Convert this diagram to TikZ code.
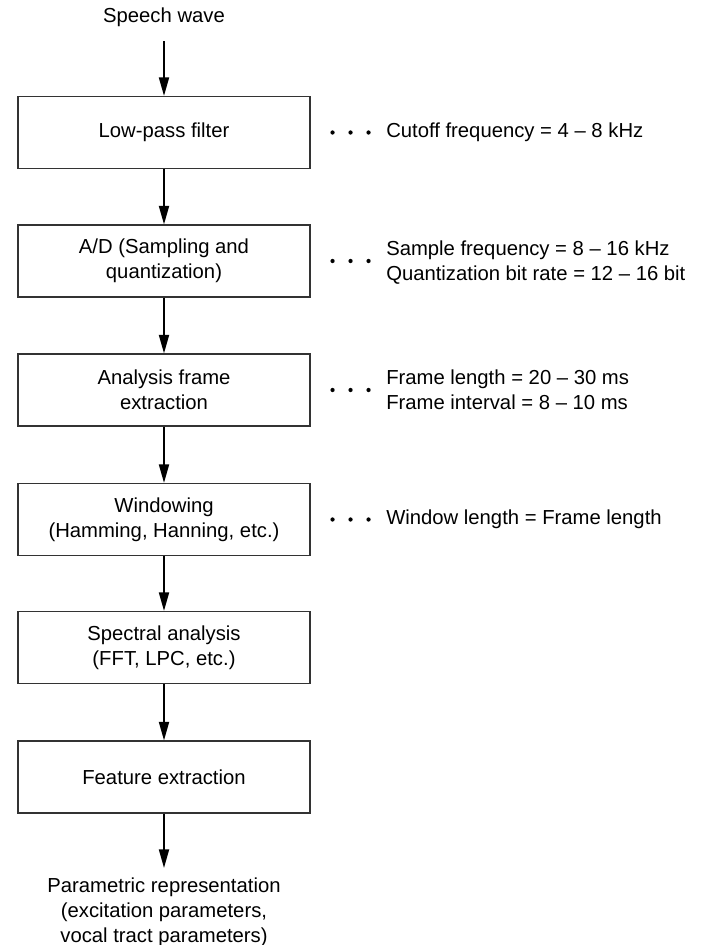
\documentclass[tikz,border=0pt]{standalone}
\usepackage{fontspec}
\setmainfont{Liberation Sans}
\usetikzlibrary{arrows.meta,calc}

\tikzset{
  stagebox/.style={draw=black!80, line width=0.8pt, minimum width=219pt,
    minimum height=54pt, align=center, inner sep=0pt},
  lbl/.style={align=center, inner sep=0pt},
  note/.style={align=left, anchor=west, inner sep=0pt},
  flow/.style={line width=1.5pt, -{Triangle[length=14pt,width=7.5pt]}},
  dot/.style={fill=black, draw=none},
}

\begin{document}
\begin{tikzpicture}[x=0.75pt, y=-0.75pt,
  every node/.append style={font=\fontsize{15.2}{18.75}\selectfont}]
  \useasboundingbox (0,0) rectangle (705,945);

  % input and output labels
  \node[lbl, inner ysep=11pt] (speech) at (164,17) {Speech wave};
  \node[lbl, anchor=north, inner ysep=7pt] (param) at (164,868)
    {Parametric representation\\(excitation parameters,\\vocal tract parameters)};

  % processing stages
  \node[stagebox] (lpf)  at (164,132.5) {Low-pass filter};
  \node[stagebox] (ad)   at (164,261)   {A/D (Sampling and\\quantization)};
  \node[stagebox] (afe)  at (164,390)   {Analysis frame\\extraction};
  \node[stagebox] (win)  at (164,519.5) {Windowing\\(Hamming, Hanning, etc.)};
  \node[stagebox] (spec) at (164,647.5) {Spectral analysis\\(FFT, LPC, etc.)};
  \node[stagebox] (feat) at (164,777)   {Feature extraction};

  % flow arrows
  \draw[flow] (speech) -- (lpf);
  \draw[flow] (lpf) -- (ad);
  \draw[flow] (ad) -- (afe);
  \draw[flow] (afe) -- (win);
  \draw[flow] (win) -- (spec);
  \draw[flow] (spec) -- (feat);
  \draw[flow] (feat) -- (param);

  % parameter notes with leader dots
  \node[note] (n1) at (386,132.5) {Cutoff frequency = 4 – 8 kHz};
  \node[note] (n2) at (386,262.5) {Sample frequency = 8 – 16 kHz\\Quantization bit rate = 12 – 16 bit};
  \node[note] (n3) at (386,390)   {Frame length = 20 – 30 ms\\Frame interval = 8 – 10 ms};
  \node[note] (n4) at (386,519.5) {Window length = Frame length};

  \foreach \b in {lpf,ad,afe,win}{
    \foreach \dx in {22,40,58}{
      \fill[dot] ($(\b.east)+(\dx,0)$) circle (1.6pt);
    }
  }
\end{tikzpicture}
\end{document}
